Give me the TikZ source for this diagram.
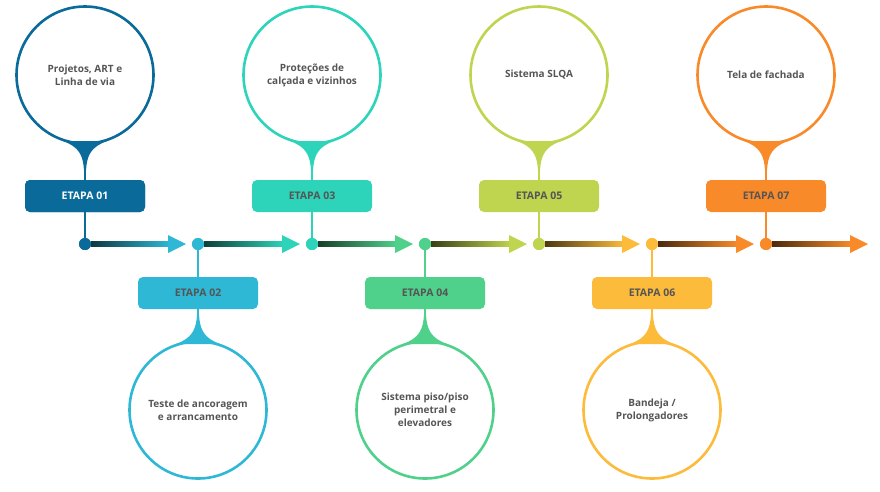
\documentclass[tikz,border=0pt]{standalone}
\usepackage{fontspec}
\setmainfont{Open Sans}
\usetikzlibrary{arrows.meta,calc}
\definecolor{k1}{HTML}{0A6A9A}
\definecolor{k2}{HTML}{2EB8D6}
\definecolor{k3}{HTML}{2DD4B9}
\definecolor{k4}{HTML}{4FD18B}
\definecolor{k5}{HTML}{BFD44F}
\definecolor{k6}{HTML}{FCBB3B}
\definecolor{k7}{HTML}{F98A2A}
\definecolor{txt}{HTML}{555555}
\tikzset{
 bub/.style={circle,draw=#1,line width=2.6pt,minimum size=137pt,inner sep=0pt,align=center,font=\bfseries\fontsize{10}{13}\selectfont,text=txt},
 lab/.style={fill=#1,rounded corners=5pt,minimum width=120pt,minimum height=32pt,font=\bfseries\fontsize{10.5}{12}\selectfont,text=txt},
 dot/.style={circle,fill=#1,minimum size=12pt,inner sep=0pt},
 stem/.style={draw=#1,line width=2pt},
}
\begin{document}
\begin{tikzpicture}[x=1pt,y=-1pt]
\useasboundingbox (0,0) rectangle (880,491);
\foreach \i/\x/\t in {1/85/{Projetos, ART e\\Linha de via},3/312/{Proteções de\\calçada e vizinhos},5/539/{Sistema SLQA},7/766/{Tela de fachada}}{
  \node[bub=k\i] (c\i) at (\x,75) {\t};
  \node[lab=k\i] (b\i) at (\x,196) {ETAPA 0\i};
  \node[dot=k\i] (d\i) at (\x,244) {};
  \draw[stem=k\i] (c\i.south) -- (b\i.north);
  \draw[stem=k\i] (b\i.south) -- (d\i.center);
  \fill[k\i] ($(c\i.center)+(-22,66)$) .. controls ($(c\i.center)+(-6,72)$) and ($(c\i.center)+(-2,80)$) .. ($(c\i.center)+(-1,95)$) -- ($(c\i.center)+(1,95)$) .. controls ($(c\i.center)+(2,80)$) and ($(c\i.center)+(6,72)$) .. ($(c\i.center)+(22,66)$) -- cycle;
}
\foreach \i/\x/\t in {2/198/{Teste de ancoragem\\e arrancamento},4/425/{Sistema piso/piso\\perimetral e\\elevadores},6/652/{Bandeja /\\Prolongadores}}{
  \node[bub=k\i] (c\i) at (\x,410) {\t};
  \node[lab=k\i] (b\i) at (\x,293) {ETAPA 0\i};
  \node[dot=k\i] (d\i) at (\x,244) {};
  \draw[stem=k\i] (c\i.north) -- (b\i.south);
  \draw[stem=k\i] (b\i.north) -- (d\i.center);
  \fill[k\i] ($(c\i.center)+(-22,-66)$) .. controls ($(c\i.center)+(-6,-72)$) and ($(c\i.center)+(-2,-80)$) .. ($(c\i.center)+(-1,-95)$) -- ($(c\i.center)+(1,-95)$) .. controls ($(c\i.center)+(2,-80)$) and ($(c\i.center)+(6,-72)$) .. ($(c\i.center)+(22,-66)$) -- cycle;
}
\coordinate (e) at (868,244);
\foreach \i/\j in {1/2,2/3,3/4,4/5,5/6,6/7}{
  \shade[left color=k\j!30!black,right color=k\j] ($(d\i.center)+(6,-2.5)$) rectangle ($(d\j.center)+(-28,2.5)$);
  \fill[k\j] ($(d\j.center)+(-30,-9)$) -- ($(d\j.center)+(-12,0)$) -- ($(d\j.center)+(-30,9)$) -- cycle;
}
\shade[left color=k7!30!black,right color=k7] ($(d7.center)+(6,-2.5)$) rectangle ($(e)+(-16,2.5)$);
\fill[k7] ($(e)+(-18,-9)$) -- (e) -- ($(e)+(-18,9)$) -- cycle;
\foreach \i in {1,...,7}{\node[dot=k\i] at (d\i) {};}
\node[lab=k1,text=white] at (b1) {ETAPA 01};
\end{tikzpicture}
\end{document}
